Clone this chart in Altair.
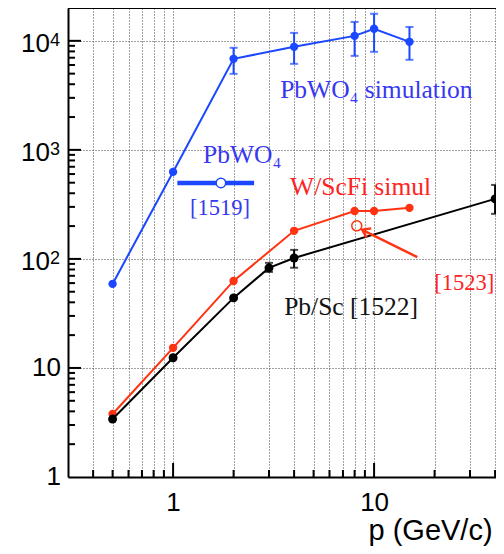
import altair as alt
import pandas as pd

# ---------------- data ----------------
blue_x = [0.5, 1, 2, 4, 8, 10, 15]
blue_y = [59, 628, 6840, 8810, 11100, 12900, 9790]
blue_err_x = [2, 4, 8, 10, 15]
blue_lo = [4980, 6150, 7280, 7930, 6700]
blue_hi = [8630, 11830, 14900, 17700, 13400]

red_x = [0.5, 1, 2, 4, 8, 10, 15]
red_y = [3.78, 15.3, 62.8, 181, 275, 275, 294]

black_x = [0.5, 1, 2, 3, 4, 40]
black_y = [3.4, 12.4, 43.9, 82.7, 102, 355]
black_err_x = [3, 4, 40]
black_lo = [76, 83, 259]
black_hi = [92, 121, 477]

pbwo4_meas = {"x": [1.73], "y": [498], "xlo": [1.05], "xhi": [2.53]}
wscfi_meas = {"x": [8.2], "y": [201]}
arrow = {"x": [16.4], "y": [104], "x2": [8.73], "y2": [185]}

word_text = ["PbWO\u2084 simulation", "PbWO\u2084", "W/ScFi simul", "Pb/Sc [1522]"]
word_x = [3.41, 1.41, 3.82, 3.57]
word_y = [3000, 760, 387, 30.6]
word_col = ["blue", "blue", "red", "black"]

ref_text = ["[1519]", "[1523]"]
ref_x = [1.215, 19.9]
ref_y = [253, 52]
ref_col = ["blue", "red"]

x_grid = [0.4, 0.5, 0.6, 0.7, 0.8, 0.9, 1, 2, 3, 4, 5, 6, 7, 8, 9, 10, 20, 30, 40]
x_major = [1, 10]
x_minor = [0.4, 0.5, 0.6, 0.7, 0.8, 0.9, 2, 3, 4, 5, 6, 7, 8, 9, 20, 30, 40]
y_major = [10, 100, 1000, 10000]
y_minor = [m * d for d in [1, 10, 100, 1000] for m in range(2, 10)] + [20000]
y_plain_vals = [1, 10]
y_plain_txt = ["1", "10"]
y_exp_vals = [100, 1000, 10000]
y_exp_txt = ["2", "3", "4"]

# ---------------- style ----------------
W, H = 436, 469
BLUE = "#1a47ff"
RED = "#ff3311"
TBLUE = "#3838f0"
TRED = "#ff2222"
SANS = "Liberation Sans"
SERIF = "Liberation Serif"

xs = alt.Scale(type="log", domain=[0.3, 44.3])
ys = alt.Scale(type="log", domain=[1, 20000])
col_scale = alt.Scale(domain=["blue", "red", "black"], range=[TBLUE, TRED, "#111111"])

x_axis = alt.Axis(
    values=x_grid, grid=True, gridColor="#444444", gridDash=[1, 2], gridWidth=1,
    ticks=False, domain=True, domainColor="black", domainWidth=2,
    labelExpr="datum.value == 1 ? '1' : (datum.value == 10 ? '10' : '')",
    labelFont=SANS, labelFontSize=26, labelColor="black", labelPadding=12,
    labelOverlap=False, labelFlush=False,
    title="p (GeV/c)", titleFont=SANS, titleFontSize=29, titleFontWeight="normal",
    titleColor="black", titleX=300, titleY=62, titleAlign="left", titleBaseline="alphabetic",
)
y_axis = alt.Axis(
    values=y_major, grid=True, gridColor="#444444", gridDash=[1, 2], gridWidth=1,
    ticks=False, labels=False, domain=True, domainColor="black", domainWidth=2, title=None,
)


def X(f="x"):
    return alt.X(f + ":Q", scale=xs, axis=x_axis, title="p (GeV/c)")


def Y(f="y"):
    return alt.Y(f + ":Q", scale=ys, axis=y_axis, title=None)


blue_df = pd.DataFrame({"x": blue_x, "y": blue_y})
blue_err = pd.DataFrame({"x": blue_err_x, "lo": blue_lo, "hi": blue_hi})
red_df = pd.DataFrame({"x": red_x, "y": red_y})
black_df = pd.DataFrame({"x": black_x, "y": black_y})
black_err = pd.DataFrame({"x": black_err_x, "lo": black_lo, "hi": black_hi})

base = alt.Chart(blue_df).mark_line(color=BLUE, strokeWidth=2).encode(x=X(), y=Y())


def errbars(df, color):
    r = alt.Chart(df).mark_rule(color=color, strokeWidth=2).encode(x=X(), y=Y("lo"), y2="hi")
    t1 = alt.Chart(df).mark_tick(color=color, orient="horizontal", size=8, thickness=2).encode(x=X(), y=Y("lo"))
    t2 = alt.Chart(df).mark_tick(color=color, orient="horizontal", size=8, thickness=2).encode(x=X(), y=Y("hi"))
    return [r, t1, t2]


blue_pts = alt.Chart(blue_df).mark_circle(color=BLUE, size=70, opacity=1).encode(x=X(), y=Y())
red_line = alt.Chart(red_df).mark_line(color=RED, strokeWidth=2).encode(x=X(), y=Y())
red_pts = alt.Chart(red_df).mark_circle(color=RED, size=70, opacity=1).encode(x=X(), y=Y())
black_line = alt.Chart(black_df).mark_line(color="black", strokeWidth=2).encode(x=X(), y=Y())
black_pts = alt.Chart(black_df).mark_circle(color="black", size=80, opacity=1).encode(x=X(), y=Y())

meas_df = pd.DataFrame(pbwo4_meas)
meas_bar = alt.Chart(meas_df).mark_rule(color=BLUE, strokeWidth=4.5).encode(x=X("xlo"), x2="xhi", y=Y())
meas_pt = alt.Chart(meas_df).mark_point(fill="white", filled=True, stroke=BLUE,
                                        strokeWidth=1.5, size=90, opacity=1).encode(x=X(), y=Y())
w_df = pd.DataFrame(wscfi_meas)
w_pt = alt.Chart(w_df).mark_point(color=RED, strokeWidth=1.5, size=100, opacity=1).encode(x=X(), y=Y())

arr_df = pd.DataFrame(arrow)
arr_line = alt.Chart(arr_df).mark_rule(color=RED, strokeWidth=2.5).encode(x=X(), y=Y(), x2="x2", y2="y2")
arr_head = alt.Chart(arr_df).mark_point(shape="M-0.7,1L0,0L0.7,1", filled=False, color=RED,
                                        strokeWidth=2.5, size=220, angle=296, opacity=1).encode(x=X("x2"), y=Y("y2"))

word_df = pd.DataFrame({"t": word_text, "x": word_x, "y": word_y, "c": word_col})
words = alt.Chart(word_df).mark_text(font=SERIF, fontSize=25.5, align="left", baseline="alphabetic").encode(
    x=X(), y=Y(), text="t:N", color=alt.Color("c:N", scale=col_scale, legend=None),
)
ref_df = pd.DataFrame({"t": ref_text, "x": ref_x, "y": ref_y, "c": ref_col})
refs = alt.Chart(ref_df).mark_text(font=SERIF, fontSize=22.5, align="left", baseline="alphabetic").encode(
    x=X(), y=Y(), text="t:N", color=alt.Color("c:N", scale=col_scale, legend=None),
)

# inside ticks
xmaj = alt.Chart(pd.DataFrame({"v": x_major})).mark_rule(color="black", strokeWidth=2).encode(
    x=X("v"), y=alt.value(H), y2=alt.value(H - 14))
xmin = alt.Chart(pd.DataFrame({"v": x_minor})).mark_rule(color="black", strokeWidth=2).encode(
    x=X("v"), y=alt.value(H), y2=alt.value(H - 7))
ymaj = alt.Chart(pd.DataFrame({"v": y_major})).mark_rule(color="black", strokeWidth=2).encode(
    y=Y("v"), x=alt.value(0), x2=alt.value(13))
ymin = alt.Chart(pd.DataFrame({"v": y_minor})).mark_rule(color="black", strokeWidth=2).encode(
    y=Y("v"), x=alt.value(0), x2=alt.value(7))
top = alt.Chart(pd.DataFrame({"v": [1]})).mark_rule(color="black", strokeWidth=2).encode(
    y=alt.value(0), x=alt.value(0), x2=alt.value(W))

# y labels
yl_plain = alt.Chart(pd.DataFrame({"v": y_plain_vals, "t": y_plain_txt})).mark_text(
    font=SANS, fontSize=26, align="right", baseline="middle", color="black").encode(
    y=Y("v"), x=alt.value(-7), text="t:N")
yl_base = alt.Chart(pd.DataFrame({"v": y_exp_vals, "t": ["10"] * len(y_exp_vals)})).mark_text(
    font=SANS, fontSize=26, align="right", baseline="middle", dy=3, color="black").encode(
    y=Y("v"), x=alt.value(-18), text="t:N")
yl_exp = alt.Chart(pd.DataFrame({"v": y_exp_vals, "t": y_exp_txt})).mark_text(
    font=SANS, fontSize=18, align="right", baseline="alphabetic", dy=5, color="black").encode(
    y=Y("v"), x=alt.value(-8), text="t:N")

layers = [base, *errbars(blue_err, BLUE), blue_pts,
          meas_bar, meas_pt,
          red_line, red_pts, w_pt,
          black_line, *errbars(black_err, "black"), black_pts,
          arr_line, arr_head, words, refs,
          xmaj, xmin, ymaj, ymin, top, yl_plain, yl_base, yl_exp]

chart = alt.layer(*layers).properties(
    width=W, height=H,
    autosize=alt.AutoSizeParams(type="none"),
    padding={"left": 60, "top": 0, "right": -8, "bottom": 69},
    background="white",
).configure_view(stroke=None)

chart.save("out.html", embed_options={"renderer": "svg", "actions": False})
